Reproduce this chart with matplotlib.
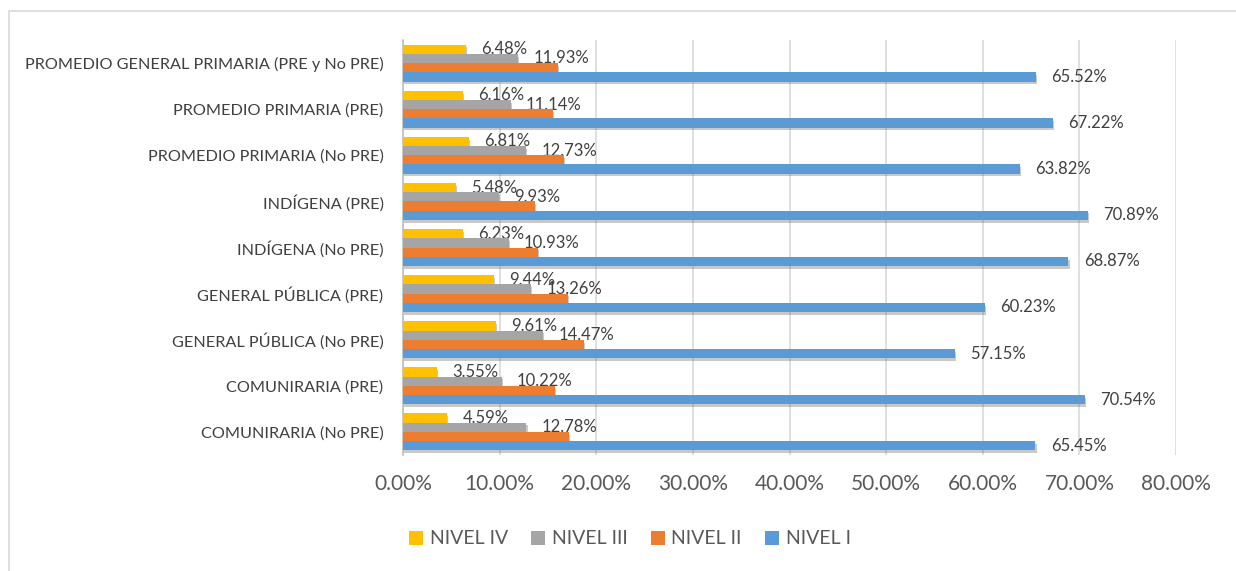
import matplotlib.pyplot as plt
import matplotlib.patheffects as pe
from matplotlib.patches import Rectangle
import numpy as np

# categories from bottom to top
categories = ["COMUNIRARIA (No PRE)", "COMUNIRARIA (PRE)", "GENERAL PÚBLICA (No PRE)",
              "GENERAL PÚBLICA (PRE)", "INDÍGENA (No PRE)", "INDÍGENA (PRE)",
              "PROMEDIO PRIMARIA (No PRE)", "PROMEDIO PRIMARIA (PRE)",
              "PROMEDIO GENERAL PRIMARIA (PRE y No PRE)"]

nivel_i = [65.45, 70.54, 57.15, 60.23, 68.87, 70.89, 63.82, 67.22, 65.52]
nivel_ii = [17.18, 15.69, 18.77, 17.07, 13.97, 13.70, 16.64, 15.48, 16.07]
nivel_iii = [12.78, 10.22, 14.47, 13.26, 10.93, 9.93, 12.73, 11.14, 11.93]
nivel_iv = [4.59, 3.55, 9.61, 9.44, 6.23, 5.48, 6.81, 6.16, 6.48]

xticks = [0, 10, 20, 30, 40, 50, 60, 70, 80]

plt.rcParams['font.family'] = ['Lato', 'DejaVu Sans']

fig = plt.figure(figsize=(12.36, 5.71), dpi=100)
ax = fig.add_axes([403 / 1236, 1 - 455 / 571, (1176 - 403) / 1236, 415 / 571])

# outer chart frame
fig.patches.append(Rectangle((9 / 1236, -0.1), 1.2, 1 - 11 / 571 + 0.1,
                             transform=fig.transFigure, fill=False,
                             edgecolor='#D9D9D9', linewidth=1.2))

y = np.arange(len(categories))
h = 0.2
shadow = [pe.SimplePatchShadow(offset=(0.8, -2), shadow_rgbFace='#666666', alpha=0.35),
          pe.Normal()]

series = [
    ("NIVEL IV", nivel_iv, '#FFC000', 0.3, True),
    ("NIVEL III", nivel_iii, '#A5A5A5', 0.1, True),
    ("NIVEL II", nivel_ii, '#ED7D31', -0.1, False),
    ("NIVEL I", nivel_i, '#5B9BD5', -0.3, True),
]

for name, vals, col, off, show in series:
    bars = ax.barh(y + off, vals, height=h, color=col, label=name, zorder=3)
    for b in bars:
        b.set_path_effects(shadow)
    if show:
        ax.bar_label(bars, labels=["{:.2f}%".format(v) for v in vals],
                     padding=11, fontsize=12, color='#404040')

ax.set_xlim(0, 80)
ax.set_ylim(-0.5, len(categories) - 0.5)
ax.set_xticks(xticks)
ax.set_xticklabels(["{:.2f}%".format(t) for t in xticks])
ax.set_yticks(y)
ax.set_yticklabels(categories)
ax.tick_params(axis='x', length=0, pad=14, labelsize=15, labelcolor='#595959')
ax.tick_params(axis='y', length=0, pad=14, labelsize=11.7, labelcolor='#404040')

ax.grid(axis='x', color='#D9D9D9', linewidth=1.2, zorder=0)
for s in ['top', 'right', 'bottom']:
    ax.spines[s].set_visible(False)
ax.spines['left'].set_color('#BFBFBF')
ax.spines['left'].set_linewidth(1.2)

handles, labels = ax.get_legend_handles_labels()
leg = fig.legend(handles, labels, loc='center', ncol=4, frameon=False,
                 bbox_to_anchor=(630 / 1236, 1 - 539 / 571), fontsize=14,
                 handlelength=0.7, handleheight=0.7, handletextpad=0.35,
                 columnspacing=1.2, labelcolor='#595959')
for hd in leg.legend_handles:
    hd.set_path_effects([])

fig.savefig("out.png", dpi=100)
